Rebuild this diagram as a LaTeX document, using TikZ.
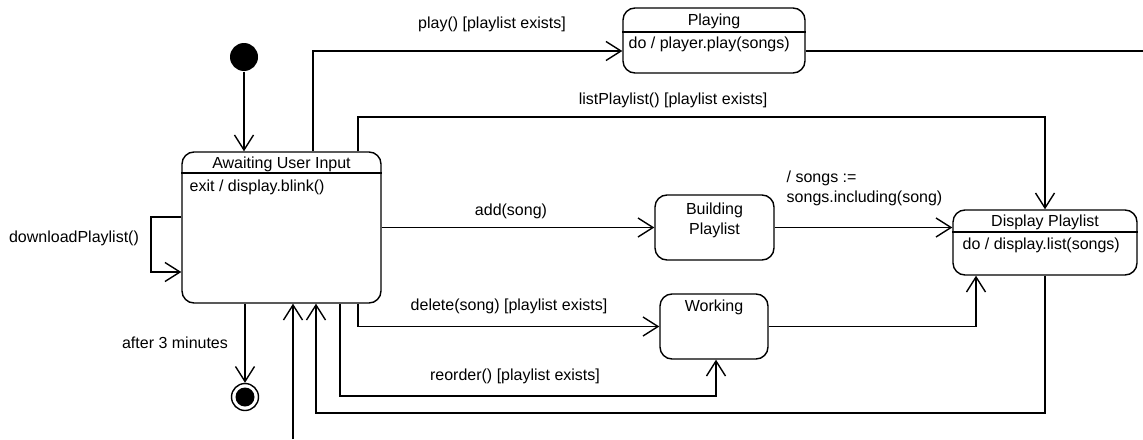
\documentclass[tikz,border=0pt]{standalone}
\usepackage{fontspec}
\setmainfont{Liberation Sans}
\usepackage{xcolor}
\usepackage{tikz}
\usetikzlibrary{arrows.meta,positioning}

\begin{document}
\begin{tikzpicture}[x=1pt,y=-1pt,line width=1.4pt,
    font=\fontsize{16}{20}\selectfont,
    state/.style={draw,rounded corners=12pt,inner sep=0pt},
    trans/.style={-{Straight Barb[length=15pt,width=19pt,line width=1.4pt]}},
    lbl/.style={inner sep=0pt}]
  \useasboundingbox (0,0) rectangle (1143,439);

  % states
  \node[circle,fill,minimum size=28pt,inner sep=0pt] (init) at (244,57) {};
  \node[state,minimum width=199pt,minimum height=151pt] (await)    at (281.5,227.5) {};
  \node[state,minimum width=182pt,minimum height=65pt]  (playing)  at (714,40.5) {};
  \node[state,minimum width=119pt,minimum height=65pt]  (building) at (714.5,227.5) {};
  \node[state,minimum width=108pt,minimum height=65pt]  (working)  at (714,326.5) {};
  \node[state,minimum width=184pt,minimum height=65pt]  (display)  at (1045,242.5) {};
  \node[circle,draw,minimum size=27pt,inner sep=0pt] (final) at (245,397) {};
  \node[circle,fill,minimum size=19pt,inner sep=0pt] (finaldot) at (final) {};

  % compartments
  \draw (await.west |- 0,173) -- (await.east |- 0,173);
  \draw (playing.west |- 0,32) -- (playing.east |- 0,32);
  \draw (display.west |- 0,232) -- (display.east |- 0,232);

  \node[lbl] (awaittitle) at (281.5,164) {Awaiting User Input};
  \node[lbl,anchor=west] (awaitexit) at (189,187) {exit / display.blink()};
  \node[lbl] (playtitle) at (714,21) {Playing};
  \node[lbl,anchor=west] (playdo) at (628,44) {do / player.play(songs)};
  \node[lbl,align=center] (buildtext) at (714.5,220) {Building\\Playlist};
  \node[lbl] (worktext) at (714,307) {Working};
  \node[lbl] (disptitle) at (1045,222) {Display Playlist};
  \node[lbl,anchor=west] (dispdo) at (962,245) {do / display.list(songs)};

  % free ends
  \coordinate (plout) at (1143,51);
  \coordinate (inbot) at (293,439);

  % transitions
  \draw[trans] (init) -- (init |- await.north);
  \draw[trans] (313,0 |- await.north) |- (playing.west |- 0,51);
  \draw (playing.east |- 0,51) -- (plout);
  \draw[trans] (358,0 |- await.north) |- (1045,117) -- (display.north);
  \draw[trans] (await.east |- building.west) -- (building.west);
  \draw[trans] (building.east) -- (display.west |- building.east);
  \draw[trans] (358,0 |- await.south) |- (working.west);
  \draw[trans] (340,0 |- await.south) |- (716,396) -- (716,0 |- working.south);
  \draw[trans] (working.east) -| (976,0 |- display.south);
  \draw[trans] (display.south) |- (316,413) -- (316,0 |- await.south);
  \draw[trans] (inbot) -- (293,0 |- await.south);
  \draw[trans] (await.west |- 0,217) -| (151,272) -- (await.west |- 0,272);
  \draw[trans] (await.south -| final) -- (final);

  % labels
  \node[lbl] (lplay) at (492,24) {play() [playlist exists]};
  \node[lbl] (llist) at (673,100) {listPlaylist() [playlist exists]};
  \node[lbl] (ladd) at (511,211) {add(song)};
  \node[lbl,align=left,anchor=west] (lsongs) at (786,188) {/ songs :=\\songs.including(song)};
  \node[lbl] (ldelete) at (509,306) {delete(song) [playlist exists]};
  \node[lbl] (lreorder) at (515,376) {reorder() [playlist exists]};
  \node[lbl] (lafter) at (175,343) {after 3 minutes};
  \node[lbl] (ldownload) at (74,238) {downloadPlaylist()};
\end{tikzpicture}
\end{document}
